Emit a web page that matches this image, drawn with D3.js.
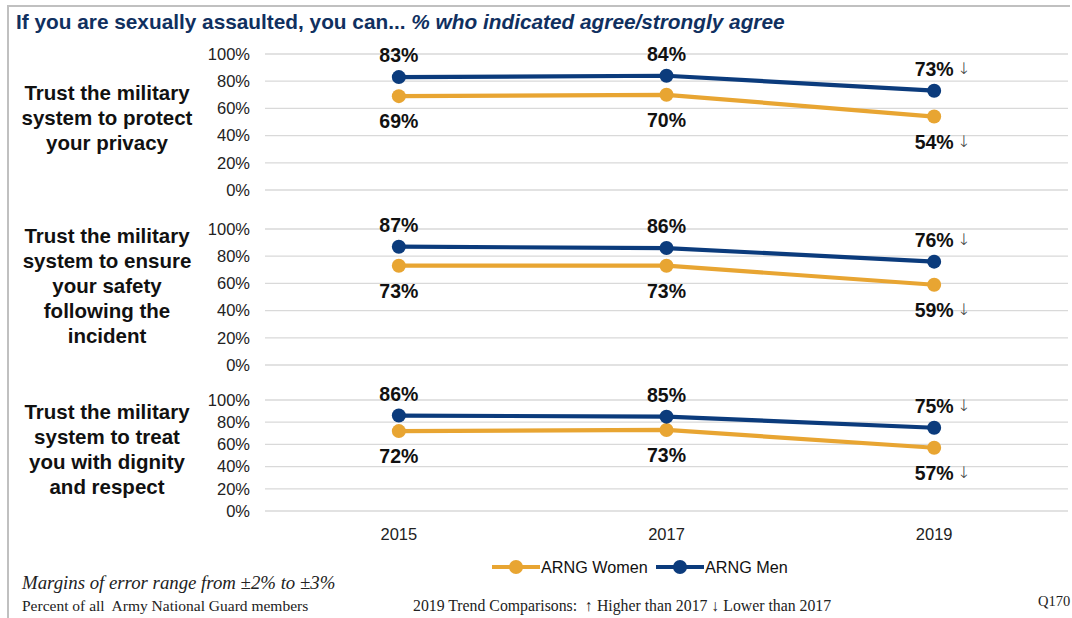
<!DOCTYPE html>
<html><head><meta charset="utf-8">
<script src="https://cdn.jsdelivr.net/npm/d3@7"></script>
<style>
html,body{margin:0;padding:0;background:#fff;}
svg{display:block;}
</style></head>
<body><svg id="chart" width="1072" height="618"></svg>
<script>
// ---- data ----
const years = ["2015", "2017", "2019"];
const statements = [
  ["Trust the military", "system to protect", "your privacy"],
  ["Trust the military", "system to ensure", "your safety", "following the", "incident"],
  ["Trust the military", "system to treat", "you with dignity", "and respect"]
];
const womenValues = [[69, 70, 54], [73, 73, 59], [72, 73, 57]];
const menValues = [[83, 84, 73], [87, 86, 76], [86, 85, 75]];
const womenTrend2019 = ["↓", "↓", "↓"];
const menTrend2019 = ["↓", "↓", "↓"];
const yTicks = [0, 20, 40, 60, 80, 100];
const seriesNames = ["ARNG Women", "ARNG Men"];
const titleMain = "If you are sexually assaulted, you can... ";
const titleSub = "% who indicated agree/strongly agree";
const footMargin = "Margins of error range from ±2% to ±3%";
const footBase = "Percent of all  Army National Guard members";
const footTrend = "2019 Trend Comparisons:  ↑ Higher than 2017 ↓ Lower than 2017";
const footCode = "Q170";

// ---- styles / layout ----
const WOMEN = "#E8A532", MEN = "#0B3B7C", NAVY = "#10305F";
const FONT = "Arial, 'Liberation Sans', sans-serif";
const SERIF = "'Liberation Serif', 'Times New Roman', serif";
const panels = [
  {top: 54, bottom: 190, labelMid: 118},
  {top: 229, bottom: 365, labelMid: 286},
  {top: 400, bottom: 511, labelMid: 449.5}
];
const svg = d3.select("#chart");
svg.append("rect").attr("width", 1072).attr("height", 618).attr("fill", "#fff");

// frame
svg.append("line").attr("x1", 8).attr("x2", 1070).attr("y1", 6).attr("y2", 6)
  .attr("stroke", "#c0c0c0").attr("stroke-width", 2);
svg.append("line").attr("x1", 8).attr("x2", 8).attr("y1", 5).attr("y2", 618)
  .attr("stroke", "#c0c0c0").attr("stroke-width", 2);

// title
const t = svg.append("text").attr("x", 16).attr("y", 29)
  .attr("font-family", FONT).attr("font-size", 20.8)
  .attr("font-weight", "bold").attr("fill", NAVY);
t.append("tspan").text(titleMain);
t.append("tspan").attr("font-style", "italic").text(titleSub);

const x = d3.scaleBand().domain(years).range([265, 1068]);
const cx = d => x(d) + x.bandwidth() / 2;

panels.forEach((p, i) => {
  const y = d3.scaleLinear().domain([0, 100]).range([p.bottom, p.top]);
  const g = svg.append("g");
  // gridlines
  g.selectAll("line.grid").data(yTicks).join("line")
    .attr("x1", 265).attr("x2", 1068)
    .attr("y1", d => y(d)).attr("y2", d => y(d))
    .attr("stroke", "#d9d9d9").attr("stroke-width", 1.3);
  // y axis
  const ax = g.append("g").attr("transform", "translate(256,0)")
    .call(d3.axisLeft(y).tickValues(yTicks).tickSize(0).tickPadding(6).tickFormat(d => d + "%"));
  ax.select(".domain").remove();
  ax.selectAll("text").attr("font-family", FONT)
    .attr("font-size", 16.5).attr("fill", "#222");

  // category label
  const lines = statements[i];
  const lh = 25;
  const lt = g.append("text").attr("text-anchor", "middle")
    .attr("font-family", FONT).attr("font-size", 20.5)
    .attr("font-weight", "bold").attr("fill", "#111");
  lines.forEach((l, k) => {
    lt.append("tspan").attr("x", 107)
      .attr("y", p.labelMid + (k - (lines.length - 1) / 2) * lh + 7).text(l);
  });

  const series = [
    {vals: womenValues[i], color: WOMEN, dy: 25, trend: womenTrend2019[i]},
    {vals: menValues[i], color: MEN, dy: -22, trend: menTrend2019[i]}
  ];
  series.forEach(s => {
    const pts = years.map((yr, j) => ({yr, v: s.vals[j]}));
    g.append("path").datum(pts)
      .attr("d", d3.line().x(d => cx(d.yr)).y(d => y(d.v)))
      .attr("fill", "none").attr("stroke", s.color).attr("stroke-width", 4.2);
    g.selectAll(null).data(pts).join("circle")
      .attr("cx", d => cx(d.yr)).attr("cy", d => y(d.v)).attr("r", 7)
      .attr("fill", s.color);
    g.selectAll(null).data(pts).join("text")
      .attr("x", d => cx(d.yr)).attr("y", d => y(d.v) + s.dy + 7)
      .attr("text-anchor", "middle")
      .attr("font-family", FONT).attr("font-size", 19.5)
      .attr("font-weight", "bold").attr("fill", "#111")
      .text(d => d.v + "%");
    const last = pts[pts.length - 1];
    g.append("text").attr("x", cx(last.yr) + 23).attr("y", y(last.v) + s.dy + 5)
      .attr("font-family", "'DejaVu Sans', sans-serif").attr("font-size", 16)
      .attr("font-weight", 300).attr("fill", "#333").text(s.trend);
  });
});

// x axis labels
const xa = svg.append("g").attr("transform", "translate(0,516)")
  .call(d3.axisBottom(x).tickSize(0).tickPadding(12));
xa.select(".domain").remove();
xa.selectAll("text").attr("font-family", FONT)
  .attr("font-size", 16.5).attr("fill", "#222");

// legend
const legend = svg.append("g").attr("font-family", FONT)
  .attr("font-size", 16.2).attr("fill", "#111");
const legX = [492, 656];
[WOMEN, MEN].forEach((c, k) => {
  const lx = legX[k];
  legend.append("line").attr("x1", lx).attr("x2", lx + 48).attr("y1", 567).attr("y2", 567)
    .attr("stroke", c).attr("stroke-width", 4.2);
  legend.append("circle").attr("cx", lx + 24).attr("cy", 567).attr("r", 7).attr("fill", c);
  legend.append("text").attr("x", lx + 49).attr("y", 573).text(seriesNames[k]);
});

// footnotes
svg.append("text").attr("x", 22).attr("y", 589)
  .attr("font-family", SERIF).attr("font-style", "italic")
  .attr("font-size", 18.8).attr("fill", "#222").text(footMargin);
svg.append("text").attr("x", 22).attr("y", 611)
  .attr("font-family", SERIF)
  .attr("font-size", 15.5).attr("fill", "#222").style("white-space", "pre").text(footBase);
svg.append("text").attr("x", 413).attr("y", 611)
  .attr("font-family", SERIF)
  .attr("font-size", 15.8).attr("fill", "#222").style("white-space", "pre").text(footTrend);
svg.append("text").attr("x", 1038).attr("y", 606)
  .attr("font-family", SERIF)
  .attr("font-size", 14.5).attr("fill", "#222").text(footCode);
</script></body></html>
